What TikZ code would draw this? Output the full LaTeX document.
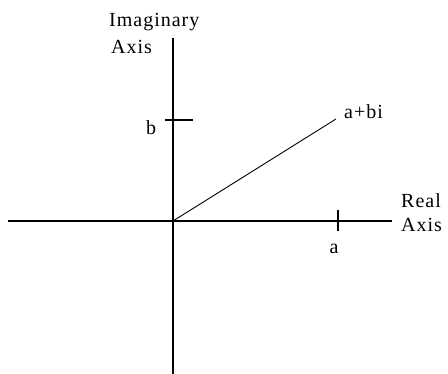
\documentclass[tikz,border=0pt]{standalone}
\usepackage{fontspec}
\setmainfont{Liberation Serif}[LetterSpace=5]
\begin{document}
\begin{tikzpicture}[x=1pt,y=-1pt,
  axis/.style={line width=1.2pt},
  lbl/.style={font=\fontsize{20}{22}\selectfont, inner sep=0pt, text=black}]
\useasboundingbox (0,0) rectangle (448,374);
\coordinate (O) at (173,221);
\coordinate (xl) at (8,221);
\coordinate (xr) at (392,221);
\coordinate (yt) at (173,38);
\coordinate (yb) at (173,374);
\coordinate (P) at (336,119);
\draw[axis] (xl) -- (xr);
\draw[axis] (yt) -- (yb);
\draw[axis] (338,210) coordinate (ta1) -- (338,231) coordinate (ta2);
\draw[axis] (165,120) coordinate (tb1) -- (193,120) coordinate (tb2);
\draw[line width=0.9pt] (O) -- (P);
\node[lbl, anchor=west] (abi) at (344,112) {a+bi};
\node[lbl] (a) at (334,249) {a};
\node[lbl] (b) at (151,128) {b};
\node[lbl, anchor=west] (real) at (401,201) {Real};
\node[lbl, anchor=west] (raxis) at (401,225) {Axis};
\node[lbl, anchor=west] (imag) at (109,22) {Imaginary};
\node[lbl, anchor=west] (iaxis) at (111,47) {Axis};
\end{tikzpicture}
\end{document}
